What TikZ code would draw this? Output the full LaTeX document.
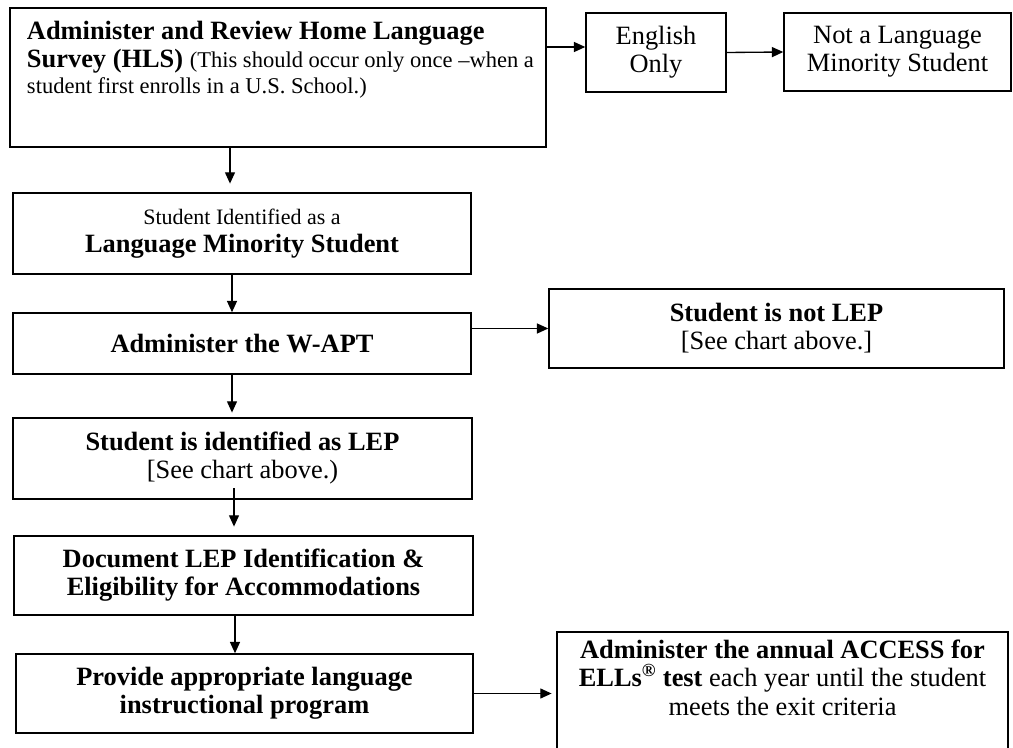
\documentclass[tikz,border=0pt]{standalone}
\usepackage{fontspec}
\usepackage{graphicx}
\setmainfont{Liberation Serif}
\usetikzlibrary{arrows.meta}
\newcommand\fs{\fontsize{19.8}{21}\selectfont}
\newcommand\sm{\fontsize{16.5}{21}\selectfont}
\newcommand\smb{\fontsize{16.9}{21}\selectfont}
\begin{document}
\begin{tikzpicture}[x=0.75pt,y=-0.75pt,
  box/.style={draw, line width=1.1pt, inner sep=0pt, align=center, font=\fs},
  arr/.style={line width=1pt, -{Triangle[length=8.5pt,width=7.5pt]}}]
\clip (0,0) rectangle (1013,748);
\fill[white] (0,0) rectangle (1013,748);

\node[box, minimum width=402pt, minimum height=104.25pt] (hls) at (278,77.5)
  {\parbox[c][104.25pt][t]{402pt}{\raggedright\leftskip=12.75pt\rule{0pt}{23.5pt}\textbf{Administer and Review Home Language}\\
   \textbf{Survey (HLS)} {\smb (This should occur only once –when a}\\[-1pt]
   {\smb student first enrolls in a U.S. School.)}}};
\node[box, minimum width=105pt, minimum height=59.25pt] (eng) at (656,52.5) {English\\Only};
\node[box, minimum width=170.25pt, minimum height=58.5pt] (notlms) at (897.5,52) {Not a Language\\Minority Student};
\node[box, minimum width=343.5pt, minimum height=60.75pt] (lms) at (242,233.5)
  {{\sm Student Identified as a}\\\textbf{Language Minority Student}};
\node[box, minimum width=343.5pt, minimum height=45.75pt] (wapt) at (242,343.5) {\textbf{Administer the W-APT}};
\node[box, minimum width=341.25pt, minimum height=59.25pt] (notlep) at (776.5,328.5) {\textbf{Student is not LEP}\\{}[See chart above.]};
\node[box, minimum width=344.25pt, minimum height=60.75pt] (lep) at (242.5,458.5) {\textbf{Student is identified as LEP}\\{}[See chart above.)};
\node[box, minimum width=344.25pt, minimum height=59.25pt] (doc) at (243.5,575.5) {\textbf{Document LEP Identification \&}\\\textbf{Eligibility for Accommodations}};
\node[box, minimum width=342.75pt, minimum height=59.25pt] (prov) at (244.5,693.5) {\textbf{Provide appropriate language}\\\textbf{instructional program}};
\node[box, minimum width=338.25pt, minimum height=112.5pt] (access) at (782.5,707)
  {\parbox[c][112.5pt][t]{338.25pt}{\fontsize{19.8}{21.5}\selectfont\centering\rule{0pt}{19.5pt}\textbf{Administer the annual ACCESS for}\\
   \textbf{ELLs\textsuperscript{\textregistered} test} each year until the student\\
   meets the exit criteria}};

\coordinate (e1) at (586,47);
\coordinate (a1) at (230,0);
\coordinate (a2) at (232,0);
\coordinate (a3) at (232,0);
\coordinate (a4) at (234,488);
\coordinate (a5) at (235,0);

\draw[arr] (e1 -| hls.east) -- (e1 -| eng.west);
\draw[arr] (eng.east) -- (notlms.west);
\draw[arr, shorten >=6.5pt] (a1 |- hls.south) -- (a1 |- lms.north);
\draw[arr] (a2 |- lms.south) -- (a2 |- wapt.north);
\draw[arr, shorten >=3.5pt] (a3 |- wapt.south) -- (a3 |- lep.north);
\draw[arr] (wapt.east |- notlep.west) -- (notlep.west);
\draw[arr, shorten >=6.5pt] (a4) -- (a4 |- doc.north);
\draw[arr] (a5 |- doc.south) -- (a5 |- prov.north);
\draw[arr, shorten >=3.5pt] (prov.east) -- (prov.east -| access.west);
\end{tikzpicture}
\end{document}
